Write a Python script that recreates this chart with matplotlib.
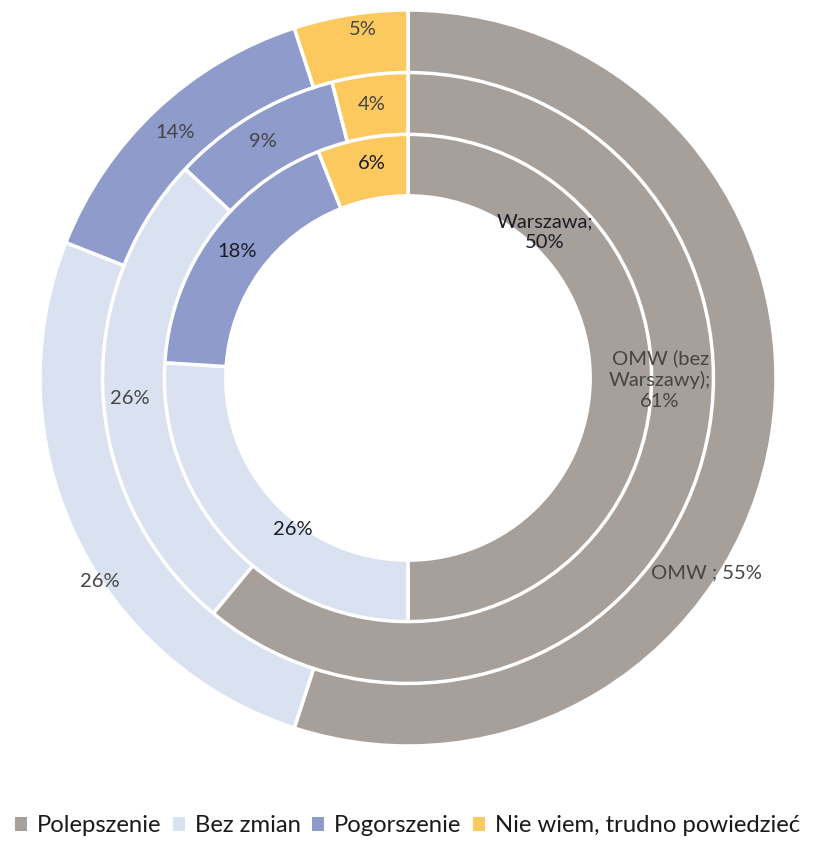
import matplotlib
matplotlib.use("Agg")
import matplotlib.pyplot as plt
from matplotlib.patches import Patch

categories = ["Polepszenie", "Bez zmian", "Pogorszenie", "Nie wiem, trudno powiedzieć"]
rings = ["Warszawa", "OMW (bez Warszawy)", "OMW "]
warszawa = [50, 26, 18, 6]
omw_bez = [61, 26, 9, 4]
omw = [55, 26, 14, 5]
colors = ["#A69F9A", "#DAE2F1", "#8E9BCB", "#FBC95E"]

plt.rcParams['font.family'] = ['Lato', 'DejaVu Sans']

fig = plt.figure(figsize=(8.15, 8.41), dpi=100)
cx, cy, R = 408, 378, 368
W, H = 815, 841
ax = fig.add_axes([(cx - R) / W, (H - cy - R) / H, 2 * R / W, 2 * R / H])
ax.set_aspect('equal')

radii = [0.665, 0.832, 1.0]
width = 0.17
for vals, r in zip([warszawa, omw_bez, omw], radii):
    ax.pie(vals, radius=r, colors=colors, startangle=90, counterclock=False,
           wedgeprops=dict(width=width, edgecolor='white', linewidth=2.5))

ax.set_xlim(-1, 1)
ax.set_ylim(-1, 1)

dark = "#1c1c28"
grey = "#454545"
fs = 14.5
# inner ring labels
ax.text(-0.098, 0.584, f"{warszawa[3]}%", ha='center', va='center', fontsize=fs, color=dark)
ax.text(-0.465, 0.345, f"{warszawa[2]}%", ha='center', va='center', fontsize=fs, color=dark)
ax.text(-0.313, -0.413, f"{warszawa[1]}%", ha='center', va='center', fontsize=fs, color=dark)
ax.text(0.372, 0.397, f"{rings[0]};\n{warszawa[0]}%", ha='center', va='center', fontsize=fs, color=dark,
        linespacing=1.25)
# middle ring labels
ax.text(-0.098, 0.742, f"{omw_bez[3]}%", ha='center', va='center', fontsize=fs, color=grey)
ax.text(-0.394, 0.644, f"{omw_bez[2]}%", ha='center', va='center', fontsize=fs, color=grey)
ax.text(-0.755, -0.057, f"{omw_bez[1]}%", ha='center', va='center', fontsize=fs, color=grey)
ax.text(0.685, -0.005, "OMW (bez\nWarszawy);\n" + f"{omw_bez[0]}%", ha='center', va='center',
        fontsize=fs, color=grey, linespacing=1.25)
# outer ring labels
ax.text(-0.122, 0.946, f"{omw[3]}%", ha='center', va='center', fontsize=fs, color=grey)
ax.text(-0.633, 0.666, f"{omw[2]}%", ha='center', va='center', fontsize=fs, color=grey)
ax.text(-0.837, -0.554, f"{omw[1]}%", ha='center', va='center', fontsize=fs, color=grey)
ax.text(0.81, -0.53, f"{rings[2]}; {omw[0]}%", ha='center', va='center', fontsize=fs, color=grey)

handles = [Patch(facecolor=c, edgecolor='none') for c in colors]
fig.legend(handles, categories, loc='center', bbox_to_anchor=(0.5, 1 - 826 / H), ncol=4,
           frameon=False, fontsize=17.2, handlelength=0.5, handleheight=0.5,
           handletextpad=0.4, columnspacing=0.5, labelcolor='#1a1a1a')

fig.savefig("out.png", dpi=100, facecolor='white')
